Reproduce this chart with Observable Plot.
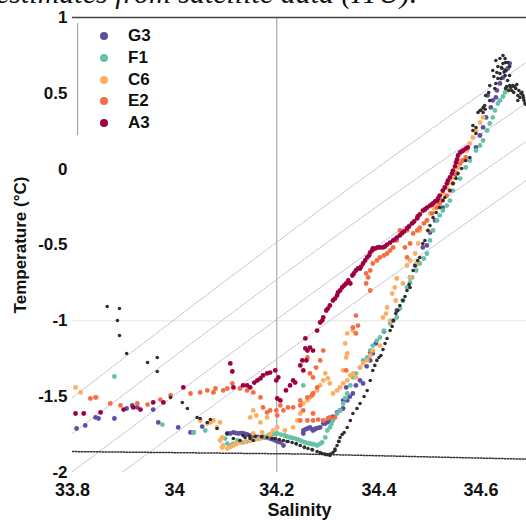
<!DOCTYPE html>
<html><head><meta charset="utf-8">
<script src="https://cdn.jsdelivr.net/npm/d3@7"></script>
<script src="https://cdn.jsdelivr.net/npm/@observablehq/plot@0.6"></script>
<style>
html,body{margin:0;padding:0;background:#fff;overflow:hidden;width:526px;height:520px}
#wrap{position:relative;width:526px;height:520px}
#wrap svg{position:absolute;left:0;top:0}
#caption{position:absolute;left:-4px;top:-22px;font:italic 30px "Liberation Serif","DejaVu Serif",serif;line-height:30px;white-space:nowrap;color:#111}
.lg{position:absolute;font:bold 17px "Liberation Sans",Arial,sans-serif;color:#111;line-height:20px}
.lg span.d{position:absolute;width:8px;height:8px;border-radius:50%}
</style></head><body><div id="wrap"></div>
<script>
// ---- categories and colours ----
const categories = ["G3","F1","C6","E2","A3"];
const colors = ["#5e4fa2","#66c2a5","#fdae61","#f46d43","#9e0142"];
const xTicks = [33.8, 34, 34.2, 34.4, 34.6];
const yTicks = [1, 0.5, 0, -0.5, -1, -1.5, -2];

// ---- series values: [salinity, temperature] ----
const G3 = [[33.808,-1.71],[33.825,-1.69],[33.845,-1.637],[33.851,-1.644],[33.882,-1.644],[33.906,-1.578],[33.917,-1.558],[33.927,-1.571],[33.958,-1.585],[33.968,-1.67],[34.007,-1.703],[34.031,-1.736],[34.037,-1.736],[34.054,-1.697],
[34.103,-1.743],[34.109,-1.743],[34.115,-1.736],[34.12,-1.74],[34.125,-1.743],[34.13,-1.74],[34.134,-1.743],[34.138,-1.746],[34.142,-1.749],[34.148,-1.756],[34.153,-1.76],[34.158,-1.763],[34.163,-1.766],[34.168,-1.769],[34.173,-1.766],[34.177,-1.769],[34.182,-1.772],[34.187,-1.776],[34.192,-1.782],[34.197,-1.789],[34.202,-1.796],[34.207,-1.802],[34.213,-1.822],
[34.252,-1.743],[34.252,-1.723],[34.256,-1.716],[34.26,-1.71],[34.265,-1.703],[34.268,-1.713],[34.271,-1.723],[34.274,-1.716],[34.277,-1.71],[34.281,-1.706],[34.285,-1.703],[34.291,-1.677],[34.295,-1.677],[34.3,-1.667],[34.304,-1.657],[34.31,-1.632],[34.318,-1.604],[34.324,-1.59],[34.33,-1.578],[34.33,-1.525],[34.338,-1.525],[34.336,-1.439],[34.343,-1.5],[34.349,-1.479],[34.355,-1.426],[34.363,-1.393],[34.369,-1.413],[34.376,-1.3],[34.383,-1.261],[34.388,-1.215],[34.383,-1.209],[34.394,-1.149],[34.41,-1.07],[34.428,-0.998],[34.435,-0.932],[34.447,-0.866],[34.461,-0.714],[34.471,-0.635],[34.486,-0.516],[34.494,-0.503],[34.5,-0.418],[34.51,-0.338],[34.525,-0.253],[34.549,-0.042],[34.59,0.143],[34.598,0.222],[34.604,0.275],[34.61,0.341],[34.613,0.486],[34.619,0.407],[34.623,0.453],[34.629,0.473],[34.631,0.519],[34.637,0.565],[34.643,0.604],[34.648,0.651],[34.652,0.664],[34.656,0.697]];

const F1 = [[33.882,-1.367],[33.976,-1.684],[34.037,-1.735],[34.06,-1.723],[34.099,-1.776],[34.103,-1.809],[34.109,-1.822],[34.115,-1.809],[34.123,-1.789],[34.128,-1.796],[34.134,-1.802],[34.141,-1.796],[34.148,-1.789],[34.156,-1.782],[34.164,-1.776],[34.17,-1.77],[34.177,-1.763],[34.184,-1.756],[34.191,-1.749],[34.196,-1.746],[34.201,-1.743],[34.208,-1.75],[34.215,-1.756],[34.22,-1.762],[34.226,-1.769],[34.231,-1.772],[34.236,-1.776],[34.241,-1.782],[34.246,-1.789],[34.251,-1.796],[34.256,-1.802],[34.261,-1.806],[34.265,-1.809],[34.269,-1.812],[34.273,-1.815],[34.279,-1.822],[34.284,-1.812],[34.289,-1.802],[34.295,-1.769],[34.299,-1.723],[34.304,-1.703],[34.307,-1.68],[34.31,-1.657],[34.318,-1.611],[34.324,-1.591],[34.33,-1.545],[34.334,-1.51],[34.338,-1.479],[34.344,-1.426],[34.349,-1.373],[34.355,-1.347],[34.363,-1.308],[34.369,-1.261],[34.377,-1.241],[34.383,-1.196],[34.388,-1.163],[34.396,-1.13],[34.402,-1.11],[34.252,-1.426],[34.41,-1.064],[34.422,-1.018],[34.435,-0.978],[34.441,-0.919],[34.447,-0.866],[34.455,-0.78],[34.461,-0.747],[34.465,-0.714],[34.473,-0.668],[34.48,-0.622],[34.488,-0.589],[34.494,-0.556],[34.5,-0.47],[34.506,-0.404],[34.514,-0.338],[34.519,-0.305],[34.525,-0.273],[34.533,-0.24],[34.539,-0.207],[34.545,-0.141],[34.559,-0.062],[34.57,0.011],[34.578,0.057],[34.59,0.123],[34.598,0.156],[34.604,0.189],[34.612,0.255],[34.617,0.301],[34.623,0.341],[34.627,0.387],[34.633,0.433],[34.637,0.453],[34.643,0.479],[34.647,0.506],[34.65,0.532]];

const C6 = [[33.806,-1.439],[33.816,-1.472],[33.847,-1.505],[34.05,-1.657],[34.064,-1.677],[34.07,-1.67],[34.076,-1.657],[34.083,-1.703],[34.089,-1.67],[34.093,-1.769],[34.089,-1.789],[34.093,-1.835],[34.095,-1.822],[34.103,-1.842],[34.109,-1.832],[34.115,-1.822],[34.121,-1.812],[34.128,-1.802],[34.138,-1.796],[34.148,-1.789],[34.158,-1.782],[34.168,-1.776],[34.181,-1.769],[34.187,-1.746],[34.193,-1.723],[34.201,-1.703],[34.154,-1.743],[34.171,-1.736],[34.154,-1.591],[34.148,-1.637],[34.16,-1.624],[34.168,-1.67],[34.181,-1.637],[34.216,-1.723],[34.232,-1.703],[34.24,-1.657],[34.246,-1.611],[34.252,-1.545],[34.26,-1.525],[34.265,-1.505],[34.271,-1.479],[34.279,-1.459],[34.285,-1.426],[34.291,-1.393],[34.295,-1.347],[34.3,-1.38],[34.304,-1.413],[34.31,-1.479],[34.318,-1.459],[34.324,-1.439],[34.33,-1.413],[34.338,-1.393],[34.344,-1.36],[34.349,-1.347],[34.355,-1.373],[34.363,-1.308],[34.369,-1.281],[34.377,-1.261],[34.383,-1.228],[34.388,-1.196],[34.338,-1.215],[34.334,-1.149],[34.338,-1.083],[34.33,-1.327],[34.336,-1.241],[34.349,-1.064],[34.402,-1.163],[34.408,-0.978],[34.414,-0.952],[34.416,-0.912],[34.422,-0.998],[34.426,-0.82],[34.431,-0.78],[34.433,-0.866],[34.435,-0.721],[34.447,-0.754],[34.455,-0.635],[34.461,-0.602],[34.461,-0.714],[34.471,-0.556],[34.473,-0.622],[34.477,-0.49],[34.48,-0.404],[34.496,-0.404],[34.494,-0.338],[34.5,-0.292],[34.508,-0.259],[34.514,-0.226],[34.519,-0.193],[34.525,-0.16],[34.533,-0.121],[34.539,-0.088],[34.545,-0.055],[34.551,-0.022],[34.555,0.011],[34.562,0.057],[34.572,0.123],[34.578,0.169],[34.584,0.209],[34.59,0.255],[34.598,0.308],[34.604,0.341]];

const E2 = [[33.835,-1.512],[33.845,-1.505],[33.874,-1.545],[33.894,-1.558],[33.927,-1.545],[33.947,-1.552],[33.972,-1.519],[33.992,-1.492],[34.031,-1.479],[34.05,-1.472],[34.064,-1.459],[34.076,-1.472],[34.08,-1.446],[34.095,-1.459],[34.103,-1.446],[34.113,-1.413],[34.128,-1.446],[34.142,-1.459],[34.154,-1.472],[34.168,-1.505],[34.173,-1.571],[34.181,-1.604],[34.187,-1.591],[34.199,-1.591],[34.201,-1.624],[34.207,-1.558],[34.213,-1.591],[34.222,-1.571],[34.232,-1.571],[34.246,-1.558],[34.246,-1.525],[34.252,-1.591],[34.26,-1.505],[34.269,-1.492],[34.271,-1.479],[34.279,-1.439],[34.271,-1.373],[34.265,-1.347],[34.277,-1.308],[34.285,-1.261],[34.26,-1.241],[34.291,-1.196],[34.246,-1.657],[34.26,-1.657],[34.271,-1.657],[34.281,-1.651],[34.291,-1.657],[34.3,-1.644],[34.304,-1.637],[34.314,-1.637],[34.271,-1.611],[34.336,-1.327],[34.349,-1.044],[34.355,-0.965],[34.355,-1.083],[34.359,-1.031],[34.375,-0.754],[34.375,-0.688],[34.379,-0.714],[34.383,-0.8],[34.383,-0.668],[34.388,-0.622],[34.396,-0.602],[34.402,-0.582],[34.41,-0.569],[34.416,-0.556],[34.422,-0.536],[34.428,-0.516],[34.435,-0.47],[34.441,-0.404],[34.451,-0.516],[34.455,-0.404],[34.455,-0.582],[34.461,-0.49],[34.467,-0.424],[34.475,-0.404],[34.48,-0.385],[34.488,-0.358],[34.494,-0.338],[34.504,-0.292],[34.514,-0.253],[34.519,-0.226],[34.525,-0.207],[34.533,-0.174],[34.539,-0.141],[34.545,-0.095],[34.553,-0.029],[34.559,0.037],[34.565,0.057],[34.57,0.077]];

const A3 = [[33.806,-1.611],[33.822,-1.611],[33.855,-1.604],[33.9,-1.585],[33.919,-1.571],[33.933,-1.585],[33.958,-1.538],[33.978,-1.538],[34.017,-1.439],[34.109,-1.281],[34.113,-1.334],[34.115,-1.439],[34.134,-1.426],[34.142,-1.426],[34.148,-1.439],[34.156,-1.407],[34.162,-1.393],[34.168,-1.38],[34.173,-1.36],[34.181,-1.347],[34.187,-1.341],[34.197,-1.327],[34.199,-1.393],[34.203,-1.373],[34.201,-1.512],[34.207,-1.525],[34.218,-1.459],[34.226,-1.426],[34.232,-1.393],[34.236,-1.407],[34.246,-1.294],[34.25,-1.261],[34.252,-1.327],[34.256,-1.182],[34.258,-1.261],[34.26,-1.196],[34.256,-1.116],[34.265,-1.176],[34.271,-1.196],[34.279,-1.064],[34.285,-1.011],[34.291,-0.978],[34.297,-0.932],[34.304,-0.899],[34.31,-0.866],[34.318,-0.833],[34.324,-0.8],[34.332,-0.767],[34.34,-0.734],[34.344,-0.754],[34.348,-0.701],[34.355,-0.668],[34.363,-0.655],[34.369,-0.622],[34.377,-0.582],[34.383,-0.549],[34.388,-0.523],[34.398,-0.516],[34.408,-0.516],[34.416,-0.497],[34.422,-0.484],[34.428,-0.47],[34.435,-0.451],[34.445,-0.424],[34.455,-0.391],[34.465,-0.358],[34.475,-0.325],[34.48,-0.299],[34.486,-0.273],[34.494,-0.253],[34.5,-0.24],[34.506,-0.226],[34.514,-0.207],[34.519,-0.174],[34.525,-0.141],[34.533,-0.095],[34.539,-0.055],[34.545,-0.009],[34.551,0.044],[34.555,0.09],[34.559,0.11],[34.565,0.123],[34.57,0.136],
[34.289,-0.998],[34.3,-0.919],[34.314,-0.853],[34.32,-0.813],[34.328,-0.78],[34.336,-0.754],[34.351,-0.688],[34.359,-0.655],[34.365,-0.642],[34.373,-0.602],[34.381,-0.569],[34.387,-0.536],[34.393,-0.523],[34.402,-0.516],[34.412,-0.51],[34.431,-0.464],[34.441,-0.437],[34.449,-0.411],[34.459,-0.378],[34.469,-0.345],[34.476,-0.312],[34.49,-0.266],[34.504,-0.233],[34.51,-0.213],[34.516,-0.193],[34.529,-0.121],[34.535,-0.075],[34.543,-0.029],[34.549,0.018],[34.553,0.064],[34.562,0.116],[34.574,0.143]];

// unlabelled profile (black)
const other = [[33.868,-0.905],[33.892,-0.919],[33.888,-0.998],[33.892,-1.097],[33.906,-1.215],[33.947,-1.275],[33.966,-1.242],[33.966,-1.334],[33.992,-1.505],[34.015,-1.538],[34.025,-1.578],[34.044,-1.637],[34.064,-1.67],[34.083,-1.71],[34.103,-1.743],[34.115,-1.776],[34.128,-1.789],[34.154,-1.789],[34.05,-1.644],[34.07,-1.651],[34.134,-1.756],[34.146,-1.76],[34.158,-1.763],[34.17,-1.766],[34.181,-1.769],[34.197,-1.776],[34.205,-1.782],[34.213,-1.789],[34.222,-1.796],[34.23,-1.802],[34.238,-1.812],[34.246,-1.822],[34.254,-1.832],[34.261,-1.842],[34.27,-1.852],[34.279,-1.862],[34.289,-1.875],[34.294,-1.878],[34.299,-1.882],[34.305,-1.878],[34.31,-1.868],[34.314,-1.845],[34.318,-1.822],[34.321,-1.795],[34.324,-1.769],[34.332,-1.736],[34.338,-1.703],[34.344,-1.657],[34.349,-1.611],[34.357,-1.578],[34.363,-1.545],[34.371,-1.499],[34.377,-1.459],[34.383,-1.393],[34.388,-1.327],[34.396,-1.261],[34.404,-1.229],[34.412,-1.149],[34.422,-1.064],[34.428,-0.998],[34.433,-0.952],[34.441,-0.899],[34.447,-0.866],[34.455,-0.8],[34.461,-0.78],[34.467,-0.668],[34.48,-0.582],[34.486,-0.49],[34.496,-0.404],[34.506,-0.319],[34.519,-0.253],[34.529,-0.187],[34.545,-0.094],[34.555,-0.029],[34.578,0.077],[34.584,0.255],[34.59,0.275],[34.604,0.407],[34.6,0.39],[34.608,0.395],[34.617,0.453],[34.629,0.565],[34.637,0.631],[34.643,0.697],[34.648,0.651],[34.633,0.598],[34.647,0.73],[34.652,0.703],[34.656,0.618],[34.625,0.611],[34.64,0.67],[34.645,0.64],[34.648,0.532],[34.658,0.538],[34.668,0.532],[34.676,0.473],[34.686,0.433],[34.66,0.519],[34.68,0.506],[34.672,0.453],[34.664,0.545],[34.683,0.47],
[34.629,0.716],[34.637,0.73],[34.643,0.749],[34.633,0.677],[34.641,0.664],[34.648,0.703],[34.656,0.677],[34.623,0.651],[34.631,0.637],[34.639,0.598],[34.647,0.618],[34.652,0.585],[34.617,0.552],[34.627,0.532],[34.609,0.486],[34.615,0.505],[34.598,0.387],[34.607,0.42],[34.594,0.374],[34.604,0.374],[34.584,0.288],[34.59,0.235],
[34.65,0.545],[34.656,0.552],[34.662,0.552],[34.666,0.545],[34.67,0.558],[34.674,0.519],[34.678,0.499],[34.682,0.486],[34.684,0.453],[34.688,0.426],[34.654,0.519],[34.664,0.506],[34.672,0.486],
[34.138,-1.769],[34.148,-1.776],[34.171,-1.763],[34.191,-1.776],[34.22,-1.796],[34.238,-1.809],[34.254,-1.835],[34.269,-1.848],[34.285,-1.868],[34.295,-1.882],[34.304,-1.888],[34.314,-1.855],[34.322,-1.796],[34.328,-1.749],
[34.392,-1.294],[34.4,-1.242],[34.408,-1.189],[34.416,-1.116],[34.426,-1.037],[34.437,-0.932],[34.451,-0.84],[34.459,-0.76],[34.471,-0.635],[34.476,-0.602],[34.49,-0.47],[34.5,-0.371],[34.512,-0.286],[34.525,-0.207],[34.539,-0.141],[34.551,-0.062],[34.562,0.004],[34.57,0.057]];

// reference lines
const freezing = [[33.8,-1.862],[34.25,-1.878],[34.69,-1.912]];
const isopycnals = [
  [[33.8,-1.505],[34.304,-0.22],[34.688,0.703]],
  [[33.8,-1.743],[34.304,-0.47],[34.688,0.433]],
  [[33.8,-1.994],[34.304,-0.734],[34.688,0.182]],
  [[33.894,-2.007],[34.304,-0.998],[34.688,-0.075]]
];
const salinityRule = [34.2];
const gridT = [-1];
const topT = [1];
const legendEdge = [{S: 33.81, T1: 0.22, T2: 0.96}];

// ---- build tables ----
const seriesData = {G3, F1, C6, E2, A3};
const pts = categories.flatMap(c => seriesData[c].map(([S, T]) => ({S, T, c})));
const otherPts = other.map(([S, T]) => ({S, T}));
const isoRows = isopycnals.flatMap((l, i) => l.map(([S, T]) => ({S, T, id: i})));
const frzRows = freezing.map(([S, T]) => ({S, T}));

const chart = Plot.plot({
  width: 526, height: 520,
  marginLeft: 72, marginRight: 0, marginTop: 17, marginBottom: 48,
  style: {fontFamily: "'Liberation Sans', Arial, sans-serif", fontWeight: "bold", fontSize: "18px", color: "#111", background: "transparent"},
  x: {domain: [33.8, 34.689]},
  y: {domain: [-2, 1]},
  color: {domain: categories, range: colors},
  marks: [
    Plot.ruleY(gridT, {stroke: "#e4e4e4", strokeWidth: 1}),
    Plot.ruleX(salinityRule, {y1: -2, y2: 1, stroke: "#999", strokeWidth: 1}),
    Plot.ruleX(legendEdge, {x: "S", y1: "T1", y2: "T2", stroke: "#999", strokeWidth: 1}),
    Plot.line(isoRows, {x: "S", y: "T", z: "id", stroke: "#a9a5cc", strokeWidth: 0.8, strokeDasharray: "1.6,1.4", curve: "natural", clip: true}),
    Plot.line(frzRows, {x: "S", y: "T", stroke: "#333", strokeWidth: 1.5, strokeDasharray: "1.5,1.5", clip: true}),
    Plot.dot(pts, {x: "S", y: "T", fill: "c", r: 2.4, stroke: null, clip: true}),
    Plot.dot(otherPts, {x: "S", y: "T", fill: "#2e2e2e", r: 1.8, clip: true}),
    Plot.ruleY(topT, {stroke: "#444", strokeWidth: 1.3}),
    Plot.axisX({ticks: xTicks, tickFormat: d => String(d), tickSize: 0, tickPadding: 11, fontSize: 18, label: "Salinity", labelAnchor: "center", labelArrow: "none", labelOffset: 43}),
    Plot.axisY({ticks: yTicks, tickFormat: d => String(d), tickSize: 0, tickPadding: 5, fontSize: 17, label: "Temperature (°C)", labelAnchor: "center", labelArrow: "none", labelOffset: 59})
  ]
});
const wrap = document.getElementById("wrap");
wrap.appendChild(chart);

// legend (HTML)
categories.forEach((c, i) => {
  const row = document.createElement("div");
  row.className = "lg";
  const cy = 36 + i * 21.75;
  row.style.left = "0px"; row.style.top = (cy - 10) + "px";
  const dot = document.createElement("span");
  dot.className = "d"; dot.style.background = colors[i];
  dot.style.left = "100px"; dot.style.top = "6px";
  const lab = document.createElement("span");
  lab.textContent = c; lab.style.position = "absolute"; lab.style.left = "128px"; lab.style.top = "0px";
  row.appendChild(dot); row.appendChild(lab);
  wrap.appendChild(row);
});

const cap = document.createElement("div");
cap.id = "caption";
cap.textContent = "estimates from satellite data (ITU).";
wrap.appendChild(cap);
</script>
</body></html>
